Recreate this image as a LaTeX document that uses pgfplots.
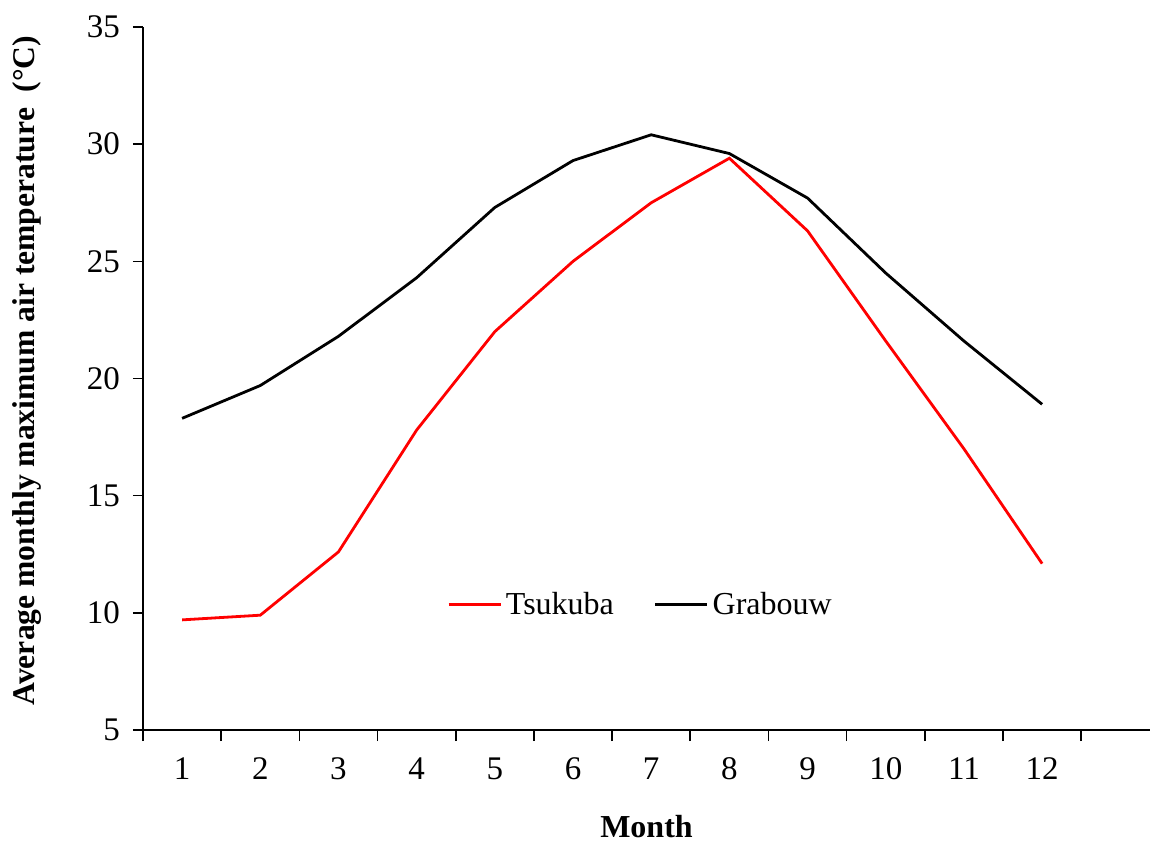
\documentclass[border=0pt]{standalone}
\usepackage{pgfplots}
\pgfplotsset{compat=1.18}
\usepackage{fontspec}
\setmainfont{Liberation Serif}
\begin{document}
\begin{tikzpicture}
\useasboundingbox (-71.5pt,-56pt) rectangle (503.5pt,365pt);
\begin{axis}[
  scale only axis,
  width=503.5pt, height=351.5pt,
  xmin=0.5, xmax=13.38,
  ymin=5, ymax=35,
  axis x line*=bottom, axis y line*=left,
  axis line style={line width=0.9pt, -},
  xtick={1,...,12},
  major x tick style={draw=none},
  minor xtick={0.5,1.5,...,12.5},
  minor x tick style={line width=0.8pt, black},
  minor tick length=5.5pt,
  ytick={5,10,...,35},
  major tick length=5pt,
  tick align=outside,
  tick style={line width=0.8pt, black},
  tick label style={font=\fontsize{16.5}{18}\selectfont},
  /pgf/number format/assume math mode=true,
  xticklabel style={text height=11pt, text depth=0pt, yshift=-5pt},
  yticklabel style={xshift=-3pt},
  xlabel={\textbf{Month}},
  xlabel style={font=\fontsize{16}{18}\selectfont, yshift=-11pt},
  ylabel={\textbf{Average monthly maximum air temperature\ \ (°C)}},
  ylabel style={font=\fontsize{15.8}{18}\selectfont, yshift=16pt, xshift=4pt},
  legend style={at={(0.495,0.178)}, anchor=center, draw=none, fill=none,
    legend columns=2, font=\fontsize{16}{18}\selectfont,
    /tikz/every even column/.append style={column sep=18pt}},
  legend image code/.code={\draw[#1] (0pt,0pt) -- (26pt,0pt);},
]
\addplot[red, line width=1.4pt] coordinates {
(1,9.7) (2,9.9) (3,12.6) (4,17.8) (5,22.0) (6,25.0) (7,27.5) (8,29.4) (9,26.3) (10,21.6) (11,17.0) (12,12.1)};
\addlegendentry{Tsukuba}
\addplot[black, line width=1.4pt] coordinates {
(1,18.3) (2,19.7) (3,21.8) (4,24.3) (5,27.3) (6,29.3) (7,30.4) (8,29.6) (9,27.7) (10,24.5) (11,21.6) (12,18.9)};
\addlegendentry{Grabouw}
\end{axis}
\end{tikzpicture}
\end{document}
